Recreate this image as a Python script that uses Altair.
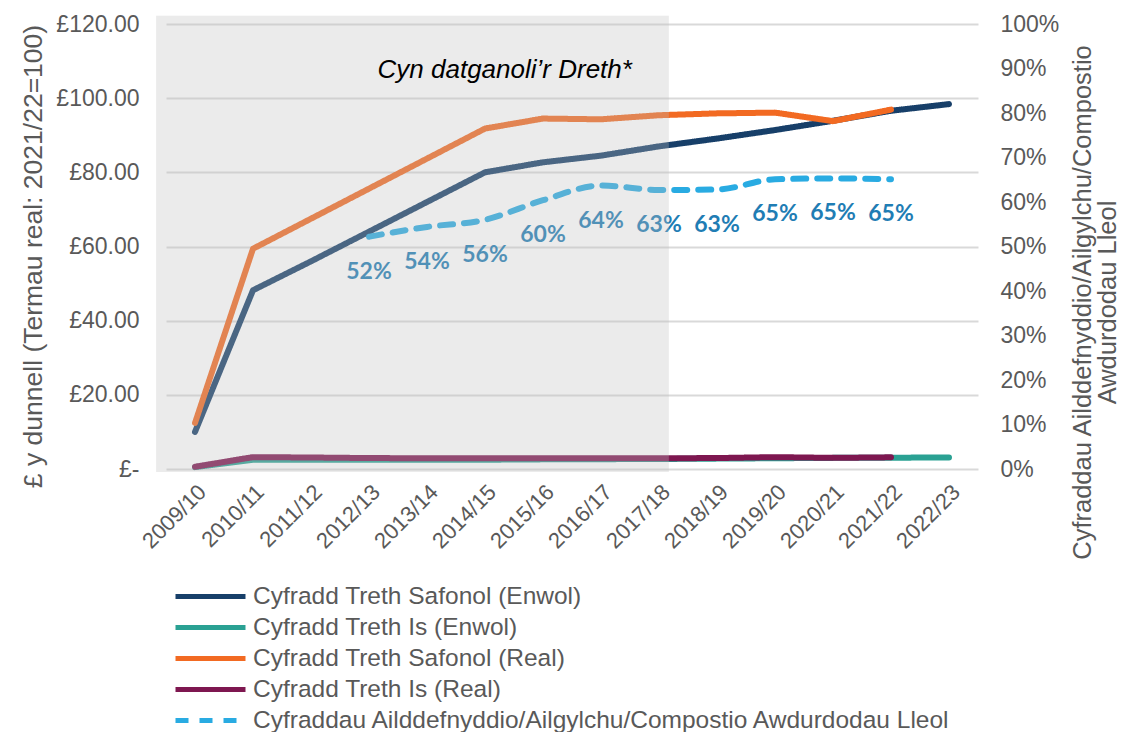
import json
import altair as alt
import pandas as pd

# ---------------- data ----------------
years = ["2009/10", "2010/11", "2011/12", "2012/13", "2013/14", "2014/15", "2015/16",
         "2016/17", "2017/18", "2018/19", "2019/20", "2020/21", "2021/22", "2022/23"]

std_nominal = [10.0, 48.2, 56.0, 64.0, 72.0, 80.0, 82.7, 84.5, 87.0, 89.1, 91.4, 93.9, 96.6, 98.4]
low_nominal = [0.5, 2.5, 2.5, 2.5, 2.5, 2.5, 2.6, 2.65, 2.7, 2.8, 2.9, 3.0, 3.05, 3.1]
std_real = [12.4, 59.4, 67.5, 75.6, 83.7, 91.8, 94.5, 94.3, 95.4, 95.9, 96.1, 93.8, 96.9]
low_real = [0.6, 3.2, 3.1, 2.95, 2.9, 2.9, 2.9, 2.9, 2.9, 2.95, 3.2, 3.0, 3.15]

recycling_years = years[3:13]
recycling = [0.522, 0.544, 0.56, 0.604, 0.637, 0.627, 0.628, 0.651, 0.653, 0.651]
recycling_labels = ["52%", "54%", "56%", "60%", "64%", "63%", "63%", "65%", "65%", "65%"]

series_names = [
    "Cyfradd Treth Safonol (Enwol)",
    "Cyfradd Treth Is (Enwol)",
    "Cyfradd Treth Safonol (Real)",
    "Cyfradd Treth Is (Real)",
    "Cyfraddau Ailddefnyddio/Ailgylchu/Compostio Awdurdodau Lleol",
]
series_colors = ["#173F69", "#2AA193", "#F26A22", "#7E1750", "#29ABE2"]
series_dashes = [[1, 0], [1, 0], [1, 0], [1, 0], [13, 11]]

# pre-devolution shaded period (in year-index units) and annotation
shade_from, shade_to = -0.67, 8.17
shade_bottom, shade_top = -0.8, 122.2
annot_text = "Cyn datganoli\u2019r Dreth*"
annot_idx, annot_value = 5.34, 107.6

# ---------------- frames ----------------
rows = []
for name, vals in zip(series_names[:4], [std_nominal, low_nominal, std_real, low_real]):
    for i, v in enumerate(vals):
        rows.append({"idx": i, "year": years[i], "value": v, "series": name})
lines_df = pd.DataFrame(rows)

rec_df = pd.DataFrame({
    "idx": [years.index(y) for y in recycling_years],
    "year": recycling_years,
    "value": recycling,
    "label": recycling_labels,
    "series": series_names[4],
})

shade_df = pd.DataFrame({"idx": [shade_from], "idx2": [shade_to],
                         "value": [shade_bottom], "value2": [shade_top]})
annot_df = pd.DataFrame({"idx": [annot_idx], "value": [annot_value], "text": [annot_text]})

# ---------------- encodings ----------------
F = "Liberation Sans"
GREY = "#595959"

x_scale = alt.Scale(domain=[-0.5, 13.5], nice=False, zero=False)
x_axis = alt.Axis(values=list(range(len(years))),
                  labelExpr=json.dumps(years) + "[datum.value]",
                  labelAngle=315, labelFontSize=22, labelColor=GREY, labelFont=F,
                  labelPadding=12, labelOverlap=False, ticks=False, domain=False,
                  grid=False, title=None)
X = alt.X("idx:Q", scale=x_scale, axis=x_axis)

left_scale = alt.Scale(domain=[0, 120], nice=False, zero=False)
right_scale = alt.Scale(domain=[0, 1], nice=False, zero=False)

left_axis = alt.Axis(orient="left", values=[0, 20, 40, 60, 80, 100, 120],
                     labelExpr="datum.value == 0 ? '£-\u00a0\u00a0' : '£' + format(datum.value, '.2f')",
                     labelFontSize=23, labelColor=GREY, labelFont=F, labelPadding=27,
                     ticks=False, domain=False, grid=True, gridColor="#D9D9D9", gridWidth=2,
                     title="£ y dunnell  (Termau real: 2021/22=100)",
                     titleFont=F, titleFontSize=26.5, titleFontWeight="normal", titleColor=GREY,
                     titleAngle=270, titleX=-133, titleY=232, titleAlign="center",
                     titleBaseline="middle")

right_axis = alt.Axis(orient="right", values=[i / 10 for i in range(11)], format=".0%",
                      labelFontSize=23, labelColor=GREY, labelFont=F, labelPadding=22,
                      ticks=False, domain=False, grid=False,
                      title=["Cyfraddau Ailddefnyddio/Ailgylchu/Compostio", "Awdurdodau Lleol"],
                      titleFont=F, titleFontSize=25.5, titleFontWeight="normal", titleColor=GREY,
                      titleAngle=270, titleX=104, titleY=278, titleAlign="center",
                      titleBaseline="middle", titleLineHeight=25)

legend = alt.Legend(orient="none", legendX=30, legendY=558, title=None, direction="vertical",
                    symbolType="M-3,0H3", symbolSize=544.4, symbolStrokeWidth=5,
                    labelFontSize=24.5, labelFont=F, labelColor=GREY, labelLimit=1200,
                    rowPadding=5, labelOffset=28, padding=0)

color = alt.Color("series:N", scale=alt.Scale(domain=series_names, range=series_colors),
                  legend=legend)
dash = alt.StrokeDash("series:N", scale=alt.Scale(domain=series_names, range=series_dashes),
                      legend=legend)

lines = alt.Chart(lines_df).mark_line(strokeWidth=6, strokeCap="round", strokeJoin="round").encode(
    x=X, y=alt.Y("value:Q", scale=left_scale, axis=left_axis),
    color=color, strokeDash=dash, detail="series:N",
)

rec_line = alt.Chart(rec_df).mark_line(strokeWidth=6, strokeCap="round", interpolate="monotone").encode(
    x=X, y=alt.Y("value:Q", scale=right_scale, axis=right_axis),
    color=color, strokeDash=dash,
)

rec_text = alt.Chart(rec_df).mark_text(font="Lato", fontWeight="bold", fontSize=23,
                                       color="#1F7DB4", dy=35, baseline="middle").encode(
    x=X, y=alt.Y("value:Q", scale=right_scale, axis=None), text="label:N",
)

shade = alt.Chart(shade_df).mark_rect(color="#BEBEBE", opacity=0.31).encode(
    x=X, x2="idx2:Q",
    y=alt.Y("value:Q", scale=left_scale, axis=None), y2="value2:Q",
)

annot = alt.Chart(annot_df).mark_text(font=F, fontStyle="italic", fontSize=26, color="#000000",
                                      baseline="middle").encode(
    x=X, y=alt.Y("value:Q", scale=left_scale, axis=None), text="text:N",
)

chart = alt.layer(lines, rec_line, rec_text, shade, annot).resolve_scale(
    y="independent"
).properties(
    width=812, height=445,
    padding={"left": 158, "top": 16, "right": 143, "bottom": 263},
    autosize=alt.AutoSizeParams(type="none"),
).configure_view(stroke=None)

chart.save("out.html", embed_options={"renderer": "svg", "actions": False})
